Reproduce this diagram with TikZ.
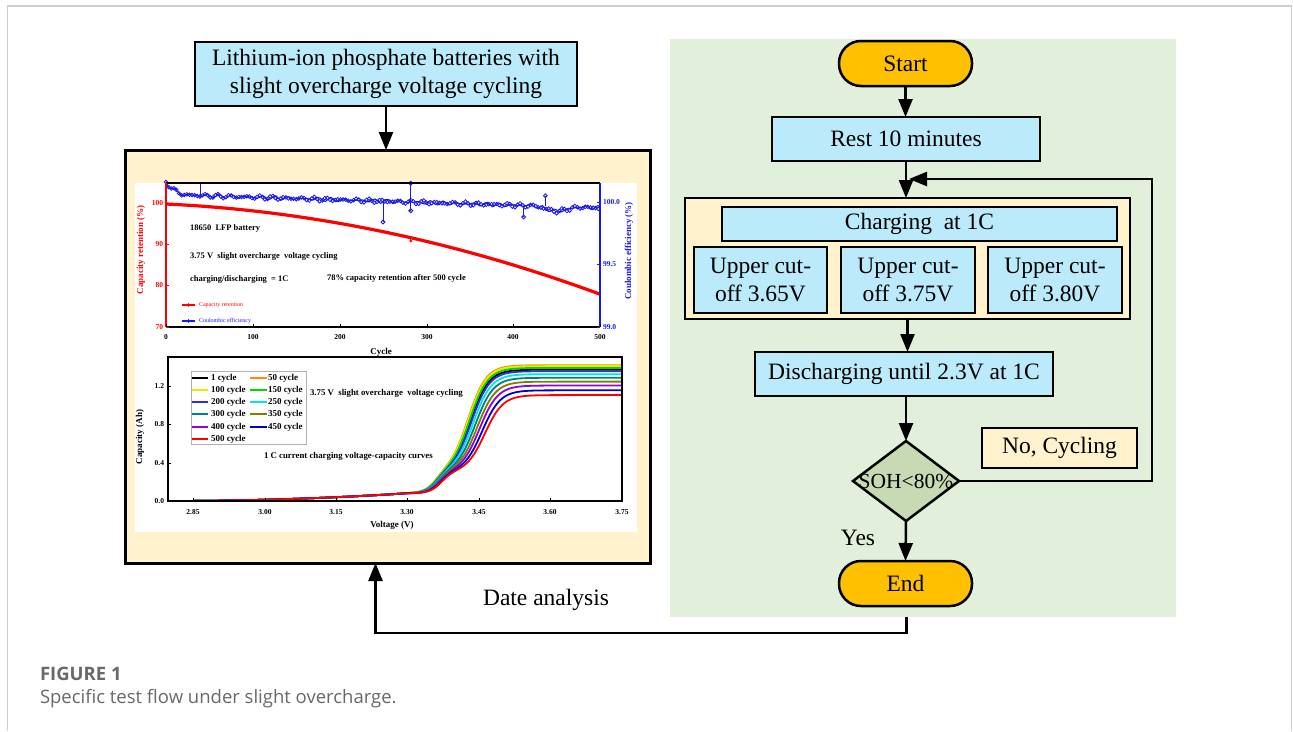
\documentclass[tikz,border=0pt]{standalone}
\usepackage{fontspec}
\setmainfont{Liberation Serif}
\newfontfamily\capfont{Open Sans}
\usetikzlibrary{arrows.meta,shapes.geometric}
\definecolor{boxcyan}{RGB}{187,234,251}
\definecolor{cream}{RGB}{255,242,204}
\definecolor{panelgreen}{RGB}{226,239,218}
\definecolor{diagreen}{RGB}{200,218,180}
\definecolor{startorange}{RGB}{255,192,0}
\definecolor{capgray}{RGB}{105,105,105}
\definecolor{framegray}{RGB}{205,205,205}
\definecolor{ptblue}{RGB}{25,25,235}
\definecolor{cyorange}{RGB}{255,140,0}
\definecolor{cyyellow}{RGB}{235,235,0}
\definecolor{cygreen}{RGB}{0,215,0}
\definecolor{cyblue}{RGB}{45,45,230}
\definecolor{cycyan}{RGB}{0,230,230}
\definecolor{cyteal}{RGB}{0,128,128}
\definecolor{cyolive}{RGB}{128,128,0}
\definecolor{cyviolet}{RGB}{150,0,220}
\definecolor{cynavy}{RGB}{0,0,200}
\definecolor{cyred}{RGB}{255,0,0}
\begin{document}
\begin{tikzpicture}[x=1pt,y=-1pt,
  every node/.style={inner sep=0pt,outer sep=0pt},
  declare function={sg(\z)=1/(1+exp(max(-9,min(9,-\z))));
    ce(\c)=1.06-0.00022*\c+0.1*max(0,1-\c/25)^2+0.01*sin(mod(\c,37)*97.3)+0.008*sin(mod(\c,29)*211.7)-0.04*max(0,1-abs(\c-450)/25);},
  mainfont/.style={font=\fontsize{23.5}{28}\selectfont},
  procbox/.style={draw=black,line width=2.5pt,fill=boxcyan,mainfont,align=center},
  termbox/.style={draw=black,line width=2.5pt,fill=startorange,rounded corners=22pt,minimum width=133pt,minimum height=45pt,mainfont},
  groupbox/.style={draw=black,line width=2.5pt,fill=cream},
  arr/.style={line width=2.5pt,-{Triangle[length=18pt,width=14pt]}},
  tickfont/.style={font=\fontsize{7.5}{9}\selectfont\bfseries},
  axfont/.style={font=\fontsize{9}{11}\selectfont\bfseries},
  chartfont/.style={font=\fontsize{8.5}{10}\selectfont\bfseries},
  chartfontb/.style={font=\fontsize{8.8}{10}\selectfont\bfseries},
  legfont/.style={font=\fontsize{9}{10}\selectfont\bfseries},
  smallleg/.style={font=\fontsize{6}{7}\selectfont},
  capstyle/.style={anchor=west,text=capgray},
]
\useasboundingbox (0,0) rectangle (1293,731);
\fill[white] (0,0) rectangle (1293,731);
\draw[framegray,line width=1.2pt] (7.5,731) -- (7.5,6) -- (1291.5,6) -- (1291.5,731);

% ---------- right panel ----------
\node[fill=panelgreen,minimum width=506pt,minimum height=578pt] (panel) at (923,328) {};
\node[termbox] (start) at (905.5,63.5) {Start};
\node[procbox,minimum width=268pt,minimum height=44pt] (rest) at (906,139) {Rest 10 minutes};
\node[groupbox,minimum width=445pt,minimum height=121pt] (grp) at (907.5,258.5) {};
\node[procbox,minimum width=395pt,minimum height=34pt] (chg) at (919.5,224) {Charging\ \ at 1C};
\node[procbox,minimum width=133pt,minimum height=66pt] (u1) at (760.5,280) {Upper cut-\\off 3.65V};
\node[procbox,minimum width=134pt,minimum height=66pt] (u2) at (908,280) {Upper cut-\\off 3.75V};
\node[procbox,minimum width=134pt,minimum height=66pt] (u3) at (1055,280) {Upper cut-\\off 3.80V};
\node[procbox,minimum width=298pt,minimum height=44pt] (dis) at (904,374) {Discharging until 2.3V at 1C};
\node[draw=black,line width=2.5pt,fill=diagreen,shape=diamond,minimum width=106pt,minimum height=80pt,font=\fontsize{21.5}{26}\selectfont] (soh) at (906,481) {\makebox[0pt]{SOH<80\%}};
\node[groupbox,minimum width=155pt,minimum height=40pt,mainfont] (no) at (1059.5,448) {No, Cycling};
\node[mainfont] (yes) at (858,538) {Yes};
\node[termbox] (end) at (905.5,583.5) {End};

\coordinate (lr) at (1152,179);
\coordinate (lj) at (909,179);
\coordinate (rs) at (906.5,617);
\coordinate (rl) at (906.5,633);

\draw[arr] (start.south) -- (start.south |- rest.north);
\draw[arr] (rest.south) -- (rest.south |- grp.north);
\draw[arr] (grp.south) -- (grp.south |- dis.north);
\draw[arr] (soh.north |- dis.south) -- (soh.north);
\draw[arr] (soh.south) -- (end.north);
\draw[arr] (soh.east) -| (lr) -- (lj);

% ---------- left part ----------
\node[procbox,minimum width=382pt,minimum height=64pt] (top) at (386,74) {Lithium-ion phosphate batteries with\\slight overcharge voltage cycling};
\node[draw=black,line width=3pt,fill=cream,minimum width=525pt,minimum height=413pt] (data) at (387.5,356.5) {};
\draw[arr] (top.south) -- (top.south |- data.north);
\draw[arr] (rs) -- (rl) -| ([xshift=-12pt]data.south);
\node[mainfont] (date) at (546,600) {Date analysis};

\fill[white] (135,183) rectangle (637,532);

% ----- top chart -----
\begin{scope}[shift={(166,327)},x=0.868pt,y=4.1pt]
  \draw[cyred,line width=3.2pt,line join=round] plot[domain=0:500,samples=100] (\x,{30-0.01*\x-0.68*(\x/100)^2});
  \draw[cyred,line width=1pt] (282,21.9) -- (282,21);
  \fill[cyred] (282,21) circle (1.6pt);
\end{scope}
\begin{scope}[shift={(166,327)},x=0.868pt,y=125pt]
  \draw[ptblue,line width=1.1pt] plot[domain=0:500,samples=167] (\x,{ce(\x)});
  \foreach \c in {0,3,...,498}
    \draw[ptblue,line width=0.8pt] (\c,{ce(\c)}) circle (1.8pt);
  \draw[ptblue,line width=1pt] (40,1.06) -- (40,1.155);
  \draw[ptblue,line width=1pt] (250,1.0) -- (250,0.84);
  \draw[ptblue,line width=1pt] (282,1.15) -- (282,0.93);
  \draw[ptblue,line width=1pt] (412,0.97) -- (412,0.88);
  \draw[ptblue,line width=1pt] (437,0.97) -- (437,1.05);
  \foreach \cx/\cy in {250/0.84,282/1.15,282/0.93,412/0.88,437/1.05}
    \draw[ptblue,line width=0.9pt] (\cx,\cy) circle (1.9pt);
\end{scope}
\draw[line width=1.2pt] (166,183) -- (600,183);
\draw[line width=1.2pt] (166,327) -- (600,327);
\draw[cyred,line width=1.2pt] (166,183) -- (166,327);
\draw[ptblue,line width=1.2pt] (600,183) -- (600,327);
\foreach \yy/\lab [count=\i] in {203/100,244/90,285/80,327/70} {
  \draw[cyred,line width=1pt] (166,\yy) -- (169,\yy);
  \node[anchor=east,text=cyred,tickfont] (ly\i) at (163,\yy) {\lab};
}
\foreach \yy/\lab [count=\i] in {202/100.0,264/99.5,327/99.0} {
  \draw[ptblue,line width=1pt] (600,\yy) -- (597,\yy);
  \node[anchor=west,text=ptblue,tickfont] (ry\i) at (603,\yy) {\lab};
}
\foreach \xx/\lab [count=\i] in {166/0,253/100,340/200,427/300,513/400,600/500} {
  \draw[line width=1pt] (\xx,327) -- (\xx,324);
  \node[tickfont] (bx\i) at (\xx,337) {\lab};
}
\node[rotate=90,text=cyred,axfont] (ylabA) at (141,250) {Capacity retention (\%)};
\node[rotate=90,text=ptblue,axfont] (ylabB) at (629,251) {Coulombic efficiency (\%)};
\node[axfont] (xlabA) at (381,352) {Cycle};
\node[anchor=west,chartfont] (cA) at (190,228) {18650\ \ LFP battery};
\node[anchor=west,chartfont] (cB) at (190,256) {3.75 V\ \ slight overcharge\ \ voltage cycling};
\node[anchor=west,chartfont] (cC) at (190,279) {charging/discharging\ \ = 1C};
\node[anchor=west,chartfont] (cD) at (327,278) {78\% capacity retention after 500 cycle};
\draw[cyred,line width=1.2pt] (182,305) -- (195,305);
\fill[cyred] (188.5,305) circle (1.8pt);
\node[anchor=west,text=cyred,smallleg] (lgA) at (199,305) {Capacity retention};
\draw[ptblue,line width=1.2pt] (182,321) -- (195,321);
\fill[ptblue] (188.5,321) circle (1.8pt);
\node[anchor=west,text=ptblue,smallleg] (lgB) at (199,321) {Coulombic efficiency};

% ----- bottom chart -----
\begin{scope}[shift={(168,501)},x=477.9pt,y=96.3pt]
  \foreach \tv/\cc in {0.15/black,0/cyorange,0.03/cyyellow,0.09/cygreen,0.2/cyblue,0.3/cycyan,0.42/cyteal,0.55/cyolive,0.68/cyviolet,0.84/cynavy,1/cyred}
    \draw[\cc,line width=1.8pt] plot[domain=0:0.95,samples=96,smooth] (\x,{0.08*min(1,\x/0.5)^2+0.22*sg((\x-0.56-0.012*\tv)/0.012)+(1.11-0.31*\tv)*sg((\x-0.628-0.035*\tv)/0.019)});
\end{scope}
\draw[line width=1.2pt] (168,357) rectangle (622,501);
\foreach \yy/\lab [count=\i] in {501/0.0,463/0.4,424/0.8,386/1.2} {
  \draw[line width=1pt] (168,\yy) -- (171,\yy);
  \node[anchor=east,tickfont] (by\i) at (164,\yy) {\lab};
}
\foreach \xx/\lab [count=\i] in {193/2.85,265/3.00,336/3.15,407/3.30,479/3.45,550/3.60,622/3.75} {
  \draw[line width=1pt] (\xx,501) -- (\xx,498);
  \node[tickfont] (vx\i) at (\xx,512) {\lab};
}
\node[axfont] (vlab) at (392,525) {Voltage (V)};
\node[rotate=90,axfont] (clab) at (140,437) {Capacity (Ah)};
\node[anchor=west,chartfontb] (dA) at (310,393) {3.75 V\ \ slight overcharge\ \ voltage cycling};
\node[anchor=west,chartfontb] (dB) at (264,456) {1 C current charging voltage-capacity curves};
\draw[gray!60,fill=white,line width=0.5pt] (191,371) rectangle (306,444);
\foreach \row/\cc/\lab [count=\i] in {378/black/1,390/cyyellow/100,402/cyblue/200,414/cyteal/300,427/cyviolet/400,439/cyred/500} {
  \draw[\cc,line width=1.8pt] (192,\row) -- (208,\row);
  \node[anchor=west,legfont] (la\i) at (211,\row) {\lab\ cycle};
}
\foreach \row/\cc/\lab [count=\i] in {378/cyorange/50,390/cygreen/150,402/cycyan/250,414/cyolive/350,427/cynavy/450} {
  \draw[\cc,line width=1.8pt] (250,\row) -- (267,\row);
  \node[anchor=west,legfont] (lb\i) at (268,\row) {\lab\ cycle};
}

% ---------- caption ----------
\node[capstyle,font=\capfont\bfseries\fontsize{18.5}{22}\selectfont] (figlbl) at (40,674) {FIGURE 1};
\node[capstyle,font=\capfont\fontsize{18.5}{22}\selectfont] (figcap) at (40,699) {Specific test flow under slight overcharge.};
\end{tikzpicture}
\end{document}
